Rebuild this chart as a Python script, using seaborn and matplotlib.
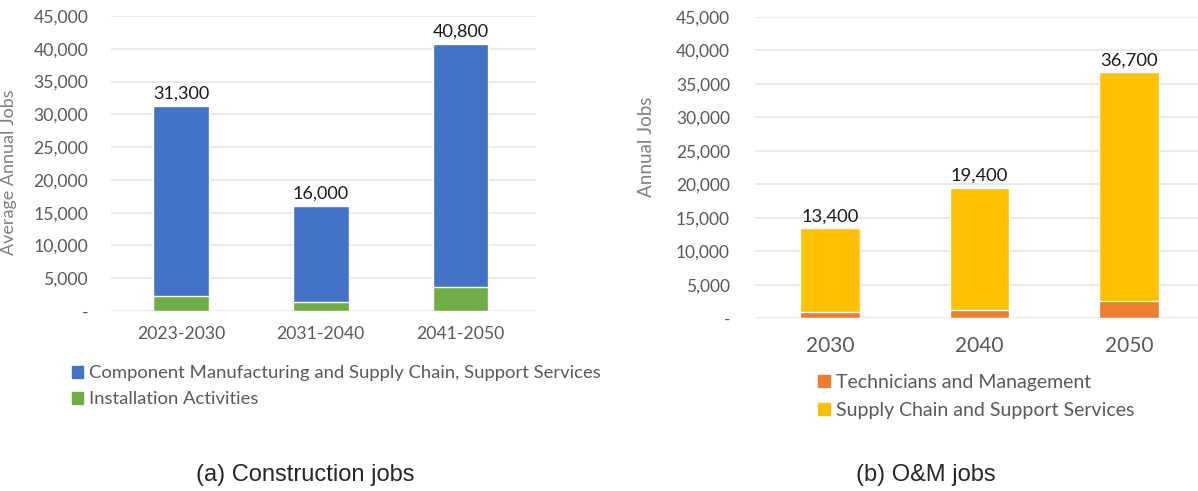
import matplotlib
matplotlib.use("Agg")
import matplotlib.pyplot as plt
import seaborn as sns
from matplotlib.patches import Patch
from matplotlib.ticker import FuncFormatter

# construction jobs (average annual)
periods = ["2023-2030", "2031-2040", "2041-2050"]
construction_total = [31300, 16000, 40800]
installation = [2300, 1300, 3600]

# O&M jobs (annual)
years = ["2030", "2040", "2050"]
om_total = [13400, 19400, 36700]
technicians = [900, 1300, 2600]

BLUE = "#4472C4"
GREEN = "#70AD47"
ORANGE = "#ED7D31"
YELLOW = "#FFC000"
GRID = "#E8E8E8"
TICK = "#595959"
LABEL = "#7F7F7F"

sns.set_theme(style="white")
plt.rcParams["font.family"] = ["Lato", "DejaVu Sans"]

fig = plt.figure(figsize=(11.98, 4.91), dpi=100)
ax1 = fig.add_axes([0.0927, 0.3666, 0.3547, 0.6008])
ax2 = fig.add_axes([0.6302, 0.3517, 0.3698, 0.6143])


def fmt(v, pos):
    return "-" if v == 0 else f"{v:,.0f}"


def style(ax, ypad, xpad, ysize, xsize):
    ax.set_ylim(0, 45000)
    ax.set_yticks(range(0, 45001, 5000))
    ax.yaxis.set_major_formatter(FuncFormatter(fmt))
    ax.grid(axis="y", color=GRID, lw=1.2)
    ax.set_axisbelow(True)
    for s in ax.spines.values():
        s.set_visible(False)
    ax.tick_params(axis="y", length=0, pad=ypad, labelsize=ysize, labelcolor=TICK)
    ax.tick_params(axis="x", length=0, pad=xpad, labelsize=xsize, labelcolor=TICK)
    ax.set_xlabel("")


def label_totals(ax, totals, size):
    for i, v in enumerate(totals):
        ax.annotate(f"{v:,}", (i, v), xytext=(0, 3), textcoords="offset points",
                    ha="center", va="bottom", fontsize=size, color="#1A1A1A")


# (a) construction
sns.barplot(x=periods, y=construction_total, color=BLUE, width=0.4, saturation=1, ax=ax1)
sns.barplot(x=periods, y=installation, color=GREEN, width=0.4, saturation=1, ax=ax1)
ax1.set_xlim(-0.5, 2.54)
style(ax1, 16.5, 11, 12.7, 12.7)
ax1.set_ylabel("Average Annual Jobs", fontsize=13, color=LABEL)
ax1.yaxis.set_label_coords(0.0145, 0.65, transform=fig.transFigure)
label_totals(ax1, construction_total, 13)
ax1.legend(handles=[Patch(color=BLUE, label="Component Manufacturing and Supply Chain, Support Services"),
                    Patch(color=GREEN, label="Installation Activities")],
           loc="upper left", bbox_to_anchor=(0.060, 0.256), bbox_transform=fig.transFigure,
           frameon=False, fontsize=13.3, labelcolor=TICK, handlelength=0.62, handleheight=0.62,
           handletextpad=0.3, labelspacing=0.55, borderaxespad=0, borderpad=0)

# (b) O&M
sns.barplot(x=years, y=om_total, color=YELLOW, width=0.4, saturation=1, ax=ax2)
sns.barplot(x=years, y=technicians, color=ORANGE, width=0.4, saturation=1, ax=ax2)
ax2.set_xlim(-0.5, 2.46)
style(ax2, 18, 13, 12.5, 15)
ax2.set_ylabel("Annual Jobs", fontsize=13.5, color=LABEL)
ax2.yaxis.set_label_coords(0.547, 0.70, transform=fig.transFigure)
label_totals(ax2, om_total, 13.2)
ax2.legend(handles=[Patch(color=ORANGE, label="Technicians and Management"),
                    Patch(color=YELLOW, label="Supply Chain and Support Services")],
           loc="upper left", bbox_to_anchor=(0.683, 0.238), bbox_transform=fig.transFigure,
           frameon=False, fontsize=14, labelcolor=TICK, handlelength=0.6, handleheight=0.6,
           handletextpad=0.3, labelspacing=0.55, borderaxespad=0, borderpad=0)

fig.text(0.2546, 0.033, "(a) Construction jobs", ha="center", va="center", fontsize=17,
         family=["Liberation Sans", "DejaVu Sans"])
fig.text(0.773, 0.033, "(b) O&M jobs", ha="center", va="center", fontsize=17,
         family=["Liberation Sans", "DejaVu Sans"])

fig.savefig("out.png", dpi=100)
